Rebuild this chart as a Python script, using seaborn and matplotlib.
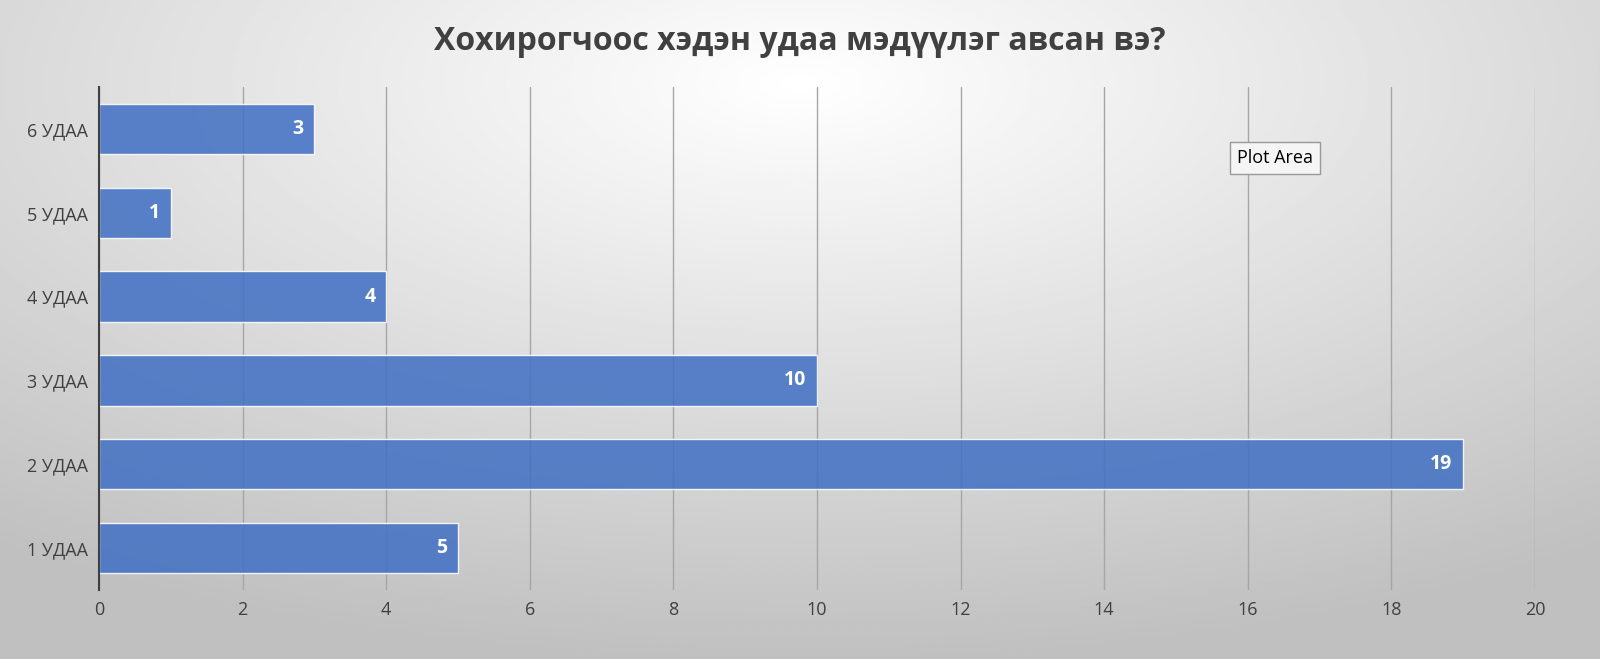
import numpy as np
import pandas as pd
import matplotlib
matplotlib.use("Agg")
import matplotlib.pyplot as plt
import seaborn as sns

# ── Data ───────────────────────────────────────────────────────────────────
categories = ["6 УДАА", "5 УДАА", "4 УДАА", "3 УДАА", "2 УДАА", "1 УДАА"]
counts     = [3, 1, 4, 10, 19, 5]
TITLE      = "Хохирогчоос хэдэн удаа мэдүүлэг авсан вэ?"

df = pd.DataFrame({"cat": categories, "n": counts})

sns.set_theme(style="white")
plt.rcParams["font.family"] = ["Open Sans", "DejaVu Sans"]

fig = plt.figure(figsize=(16, 6.59), dpi=100)

# radial gradient background
bg = fig.add_axes([0, 0, 1, 1], zorder=0)
yy, xx = np.mgrid[-1:1:300j, -1:1:700j]
r = np.sqrt((xx * 0.95) ** 2 + ((yy + 0.75) * 0.9) ** 2)
bg.imshow(1 - 0.25 * np.clip(r, 0, 1.6) / 1.6, cmap="gray", vmin=0, vmax=1,
          aspect="auto", extent=[0, 1, 0, 1])
bg.axis("off")

ax = fig.add_axes([99 / 1600, 1 - 590 / 659, 1436 / 1600, 503 / 659], zorder=1)
ax.patch.set_alpha(0)
sns.barplot(data=df, x="n", y="cat", color="#4472C4", saturation=1,
            width=0.6, edgecolor="white", linewidth=1, alpha=0.88, ax=ax)

for i, v in enumerate(counts):
    ax.text(v - 0.15, i, str(v), ha="right", va="center", color="white",
            fontsize=14, fontweight="bold")

ax.set_xlim(0, 20)
ax.set_xticks(range(0, 21, 2))
ax.grid(axis="x", color="#a6a6a6", linewidth=1)
ax.set_axisbelow(True)
for s in ["top", "right", "bottom"]:
    ax.spines[s].set_visible(False)
ax.spines["left"].set_color("#404040")
ax.spines["left"].set_linewidth(1.5)
ax.set_xlabel(""); ax.set_ylabel("")
ax.tick_params(axis="both", labelsize=13, colors="#404040", length=0, pad=8)

fig.text(0.5, 1 - 42 / 659, TITLE, ha="center", va="center", fontsize=23,
         fontweight="bold", color="#404040")
fig.text(1275 / 1600, 1 - 158 / 659, "Plot Area", ha="center", va="center",
         fontsize=13, color="black",
         bbox=dict(boxstyle="square,pad=0.4", fc="#f5f5f5", ec="#999999"))

fig.savefig("out.png", dpi=100)
